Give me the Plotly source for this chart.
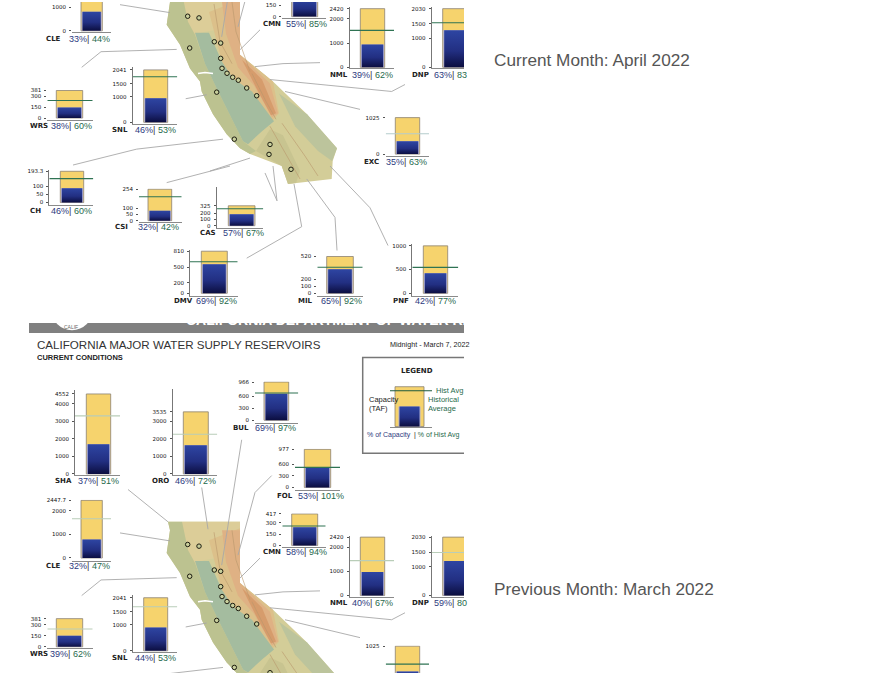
import plotly.graph_objects as go

W, H = 876, 675
CLIP_X = 464
PANEL_SHIFT = 531.4

# reservoir capacity (TAF) and axis ticks
CAPACITY = {"SHA": 4552, "ORO": 3535, "BUL": 966, "FOL": 977, "CLE": 2447.7, "CMN": 417,
            "NML": 2420, "DNP": 2030, "EXC": 1025, "WRS": 381, "SNL": 2041, "CCH": 193.3,
            "CSI": 254, "CAS": 325, "DMV": 810, "MIL": 520, "PNF": 1000}
TICKS = {"SHA": [0, 1000, 2000, 3000, 4000, 4552], "ORO": [0, 1000, 2000, 3000, 3535],
         "BUL": [0, 300, 600, 966], "FOL": [0, 300, 600, 977], "CLE": [0, 1000, 2000, 2447.7],
         "CMN": [0, 150, 300, 417], "NML": [0, 1000, 2000, 2420], "DNP": [0, 1000, 1500, 2030],
         "EXC": [0, 1025], "WRS": [0, 150, 300, 381], "SNL": [0, 1000, 1500, 2041],
         "CCH": [0, 50, 100, 193.3], "CSI": [0, 50, 100, 254], "CAS": [0, 100, 200, 325],
         "DMV": [0, 200, 500, 810], "MIL": [0, 100, 200, 520], "PNF": [0, 500, 1000]}

# April 2022 readings
APRIL_CODES = ["CLE", "CMN", "NML", "DNP", "EXC", "WRS", "SNL", "CCH", "CSI", "CAS", "DMV", "MIL", "PNF"]
APRIL_STORAGE = [808, 229, 944, 1279, 359, 145, 939, 89, 81, 185, 559, 338, 420]
APRIL_AVERAGE = [1836, 270, 1522, 1541, 570, 242, 1772, 148, 193, 276, 608, 367, 545]
APRIL_PCT_CAP = [33, 55, 39, 63, 35, 38, 46, 46, 32, 57, 69, 65, 42]
APRIL_PCT_AVG = [44, 85, 62, 83, 63, 60, 53, 60, 42, 67, 92, 92, 77]

# March 2022 readings
MARCH_CODES = ["SHA", "ORO", "BUL", "FOL", "CLE", "CMN", "NML", "DNP", "WRS", "SNL", "EXC"]
MARCH_STORAGE = [1684, 1626, 667, 518, 783, 242, 968, 1198, 149, 898, 310]
MARCH_AVERAGE = [3302, 2258, 687, 513, 1667, 257, 1445, 1497, 240, 1694, 520]
MARCH_PCT_CAP = [37, 46, 69, 53, 32, 58, 40, 59, 39, 44, None]
MARCH_PCT_AVG = [51, 72, 97, 101, 47, 94, 67, 80, 62, 53, None]

DARK = "#2f7353"
PALE = "#b9cdb8"
PALE_BLUE = "#b4cccc"

# geometry in page pixels: axis left/right, bar left/right, bar top, zero, baseline,
# axis top (None = just over the bar), y axis line, label x, percent x, text y, avg line colour
GEOM_APRIL = {
    "CLE": (72, 111, 81, 102.3, -29, 29, 30.5, None, False, 45, 67.7, 37, DARK),
    "CMN": (282.3, 325.7, 291.7, 317.7, -17, 14.7, 16.3, None, False, 261.7, 285, 22.3, DARK),
    "NML": (349.5, 394, 360.3, 384.7, 6.7, 65.7, 66.5, 5, True, 329, 351, 73.3, DARK),
    "DNP": (431.7, 476, 442.7, 467, 6.7, 65.7, 66.5, 5, True, 411, 432.7, 73.3, DARK),
    "EXC": (385.7, 429, 395.3, 419.7, 116.3, 153, 155, None, False, 362.7, 385, 160.7, PALE_BLUE),
    "WRS": (47.3, 92.7, 56.3, 82.7, 89, 116.7, 119, None, False, 29.3, 50, 124.3, DARK),
    "SNL": (132.7, 177.3, 143.7, 167.7, 68.3, 121, 122.7, 65, True, 111, 134, 128.3, DARK),
    "CCH": (49.3, 93.3, 60.3, 83.7, 170.3, 201.7, 204.3, 169, True, 29, 50, 210, DARK),
    "CSI": (139, 181.7, 148, 171.7, 188.3, 220, 221, None, False, 114, 137.3, 226.7, DARK),
    "CAS": (216.7, 263.3, 228.3, 255, 205, 225, 227, 185.7, True, 199, 221.7, 232.7, DARK),
    "DMV": (190, 237.7, 201.3, 227.3, 250.7, 293, 295.3, 249.3, True, 172.7, 195, 300.7, DARK),
    "MIL": (317.3, 362.7, 326.7, 353.3, 256, 293, 295.3, None, False, 297, 320, 300.7, DARK),
    "PNF": (412.3, 458.3, 423.3, 447.7, 245.3, 293, 295.3, 243.3, True, 392.3, 414, 300.7, DARK),
}
GEOM_MARCH = {
    "SHA": (75, 120, 86.3, 110.7, 394.3, 474.7, 476, 390, True, 54.3, 77, 481.7, PALE),
    "ORO": (172.7, 217.3, 183.3, 208.3, 412.3, 474.7, 476, 389.3, True, 151, 174.3, 481.7, PALE),
    "BUL": (255, 298.3, 264, 288.7, 382.3, 420.7, 423.3, None, False, 231.7, 254.3, 429, DARK),
    "FOL": (295, 340, 304.3, 330.7, 450, 488.3, 491, None, False, 276, 297.3, 496.7, DARK),
    "CLE": (72, 111, 81, 102.3, 501.3, 559.3, 562, None, False, 45, 67.7, 567.7, PALE),
    "CMN": (282.3, 325.7, 291.7, 317.7, 515, 546.7, 548.3, None, False, 261.7, 285, 553.3, DARK),
    "NML": (349.5, 394, 360.3, 384.7, 538.3, 597, 599, 536.7, True, 329, 351, 604.3, PALE),
    "DNP": (431.7, 476, 442.7, 467, 538.3, 597, 599, 536.7, True, 411, 432.7, 604.3, PALE),
    "WRS": (47.3, 92.7, 56.3, 82.7, 620.3, 648.7, 649.5, None, False, 29.3, 49.3, 655.7, PALE),
    "SNL": (132.7, 177.3, 143.7, 167.7, 599.3, 652.7, 654, 596.7, True, 111, 134, 660, PALE),
    "EXC": (385.7, 429, 395.3, 419.7, 648, 684.7, 686, None, False, 362.7, 385, 692, DARK),
}

# map drawing, page pixels of the upper panel
STATE = [(168, -8.5), (240, -8.5), (240, 53), (273, 80), (307, 113), (337, 147), (332.7, 160),
         (331.7, 178), (288, 183), (281.7, 165), (250, 153), (240, 147), (226.7, 133), (213, 113),
         (201.7, 90), (200, 80), (190, 67), (180, 43), (166.7, 23), (170, 0)]
COAST = [(168, -8.5), (182, -8.5), (188, 20), (195, 33), (205, 62), (216.7, 87), (243, 140), (256, 150),
         (250, 153), (240, 147), (226.7, 133), (213, 113), (201.7, 90), (200, 80), (190, 67), (180, 43),
         (166.7, 23), (170, 0)]
NORTH = [(182, -8.5), (240, -8.5), (240, 20), (218, 28), (205, 30), (195, 33), (188, 20)]
FOOTHILL = [(209, 10), (240, -2), (240, 53), (273, 80), (279, 112), (272, 120), (252, 90), (233, 77), (222, 60)]
SIERRA = [(222, 0), (240, 0), (240, 53), (270, 82), (278, 112), (272, 116), (254, 84), (238, 66), (226, 32)]
SIERRA_CORE = [(242, 58), (262, 78), (276, 112), (271, 114), (256, 86)]
VALLEY = [(195, 31), (209, 31), (222, 60), (233, 77), (252, 90), (274, 120), (262, 130), (248, 143),
          (243, 140), (216.7, 87), (205, 62)]
SOUTH = [(256, 150), (270, 128), (283, 134), (300, 170), (296, 182), (288, 183), (281.7, 165)]
DESERT = [(279, 92), (307, 113), (337, 147), (332, 160), (318, 150), (295, 125)]
BAY = [(198, 72), (205, 71), (213, 72)]
FAULTS = [[(214, 2), (220, 40), (232, 62)], [(232, 0), (236, 30), (250, 70)], [(252, 72), (266, 100), (276, 118)],
          [(270, 125), (290, 160), (300, 178)], [(282, 122), (305, 155), (318, 175)]]
DAMS = [(187.7, 14.3), (199, 16), (189.7, 46.3), (214.3, 40), (220.7, 41.3), (220.7, 56.7), (222, 66.7),
        (227, 71.7), (232.7, 75.7), (238.3, 78.7), (246.7, 86.5), (216.7, 90.7), (234.3, 138),
        (256.7, 94.3), (270, 143.3), (269, 153.3), (291, 168.3)]
LEADERS = [[(120, 2.7), (170, 10.7)], [(81.7, 65.7), (101, 50), (176.7, 47.7)], [(185.7, 97.3), (206.7, 93.3)],
           [(73, 164), (136.7, 148), (223, 138)], [(210, 170), (250, 157)], [(240, 48), (260, 28)],
           [(255, 65), (283, 62), (320, 61)], [(270, 78), (391.7, 90), (405, 83)],
           [(285, 90), (333, 102), (360, 108)], [(330, 165), (370, 207), (388, 245)],
           [(306.7, 178), (335, 216.7), (337, 250)], [(294, 183), (301.7, 226), (246.7, 257.7)],
           [(273, 165), (277, 200), (265, 172)], [(166.7, 181.7), (230, 165)],
           [(128, -41), (168, -8.5)], [(201.7, -43), (208, -1)], [(241.7, -91), (221.7, 35)],
           [(271.7, -55), (255, -38), (238, 25)]]

LABEL_FONT = "DejaVu Sans"
TEXT_FONT = "Liberation Sans"
NAVY = "#2d3a7e"
GREEN = "#1f6a4c"

fig = go.Figure()
annotations = []
layout_axes = {}


def add_text(text, x, y, size=7, color="#222", family=TEXT_FONT, anchor="left", bold=False):
    if bold:
        text = f"<b>{text}</b>"
    annotations.append(dict(text=text, x=x / W, y=1 - y / H, xref="paper", yref="paper", showarrow=False,
                            xanchor=anchor, yanchor="middle", align="left", borderpad=0,
                            font=dict(size=size, color=color, family=family)))


def poly(points, color, shift=0.0):
    fig.add_trace(go.Scatter(x=[p[0] for p in points], y=[p[1] + shift for p in points], fill="toself",
                             fillcolor=color, mode="none", xaxis="x", yaxis="y", hoverinfo="skip"))


def path(points, color, width, shift=0.0):
    fig.add_trace(go.Scatter(x=[p[0] for p in points], y=[p[1] + shift for p in points], mode="lines",
                             line=dict(color=color, width=width), xaxis="x", yaxis="y", hoverinfo="skip"))


def draw_map(shift):
    poly(STATE, "#d3cd98", shift)
    poly(NORTH, "#dccd98", shift)
    poly(COAST, "#bcc290", shift)
    poly(FOOTHILL, "#dcc08a", shift)
    poly(SIERRA, "#dfb184", shift)
    poly(SIERRA_CORE, "#d69c6c", shift)
    poly(DESERT, "#bcc49c", shift)
    poly(SOUTH, "#c8c490", shift)
    poly(VALLEY, "#a4bc9f", shift)
    path(BAY, "#ffffff", 1.5, shift)
    for line in FAULTS:
        path(line, "#b9976c", 0.6, shift)
    for line in LEADERS:
        path(line, "#a8a8a8", 0.9, shift)
    fig.add_trace(go.Scatter(x=[p[0] for p in DAMS], y=[p[1] + shift for p in DAMS], mode="markers",
                             marker=dict(size=4.5, color="#c9cf9c", line=dict(color="#1c1c10", width=1)),
                             xaxis="x", yaxis="y", hoverinfo="skip"))


def mini_chart(n, capacity, storage, average, geom, ticks=None, inset=1.5):
    ax_l, ax_r, bar_l, bar_r, top, zero, base, axis_top, yline = geom[:9]
    avg_color = geom[12]
    if axis_top is None:
        axis_top = top - 0.6
    dom_top = max(axis_top, 0)
    dom_bot = min(base, H)
    dom_r = min(ax_r, CLIP_X)
    to_value = lambda p: (zero - p) / (zero - top) * capacity
    xa, ya = f"x{n}", f"y{n}"
    center = (bar_l + bar_r) / 2
    width = bar_r - bar_l
    inner = width / 2 - inset
    fig.add_trace(go.Bar(x=[center], y=[capacity], width=[width], xaxis=xa, yaxis=ya, hoverinfo="skip",
                         marker=dict(color="#f6d36d", line=dict(color="#8c8272", width=0.8))))
    fig.add_trace(go.Bar(x=[center], y=[storage], width=[2 * inner + 2], xaxis=xa, yaxis=ya, hoverinfo="skip",
                         marker=dict(color="#aeaed2", line=dict(width=0))))
    fig.add_trace(go.Scatter(x=[center - inner, center - inner, center + inner, center + inner],
                             y=[0, storage, storage, 0], mode="none", fill="toself",
                             fillgradient=dict(type="vertical", start=storage, stop=0,
                                               colorscale=[[0, "#2e45a2"], [0.55, "#222f82"], [1, "#0b0d3e"]]),
                             xaxis=xa, yaxis=ya, hoverinfo="skip"))
    fig.add_trace(go.Scatter(x=[ax_l, ax_r], y=[average, average], mode="lines",
                             line=dict(color=avg_color, width=1.1), xaxis=xa, yaxis=ya, hoverinfo="skip"))
    layout_axes[f"xaxis{n}"] = dict(domain=[ax_l / W, dom_r / W], range=[ax_l, dom_r], anchor=ya,
                                    showgrid=False, zeroline=False, showticklabels=False, ticks="",
                                    showline=base <= H, linecolor="#8a8a8a", linewidth=1, fixedrange=True)
    y_opts = dict(domain=[1 - dom_bot / H, 1 - dom_top / H], range=[to_value(dom_bot), to_value(dom_top)],
                  anchor=xa, showgrid=False, zeroline=False, showline=yline, linecolor="#777", linewidth=1,
                  fixedrange=True, showticklabels=False, ticks="")
    if ticks:
        y_opts.update(tickmode="array", tickvals=ticks, ticktext=[f"{t:g}" for t in ticks], showticklabels=True,
                      ticks="outside", ticklen=2, tickcolor="#555", ticklabelstandoff=2,
                      tickfont=dict(size=5.5, color="#111", family=LABEL_FONT))
    layout_axes[f"yaxis{n}"] = y_opts


# page furniture on the full-page axis
draw_map(0.0)
draw_map(PANEL_SHIFT)
poly([(29, 323), (CLIP_X, 323), (CLIP_X, 333), (29, 333)], "#808080")
fig.add_trace(go.Scatter(x=[72], y=[309], mode="markers", marker=dict(size=42, color="#ffffff"),
                         xaxis="x", yaxis="y", hoverinfo="skip"))
path([(CLIP_X, 357.7), (362.7, 357.7), (362.7, 454), (CLIP_X, 454)], "#777777", 1.5)

n = 2
for i, code in enumerate(APRIL_CODES):
    geom = GEOM_APRIL[code]
    mini_chart(n, CAPACITY[code], APRIL_STORAGE[i], APRIL_AVERAGE[i], geom, TICKS[code])
    n += 1
    label = "CH" if code == "CCH" else code
    add_text(label, geom[9], geom[11], size=7, family=LABEL_FONT, bold=True)
    tail = f"{APRIL_PCT_AVG[i]}%" if code != "DNP" else f"{APRIL_PCT_AVG[i]}"
    add_text(f'<span style="color:{NAVY}">{APRIL_PCT_CAP[i]}%</span><span style="color:#333">|</span> '
             f'<span style="color:{GREEN}">{tail}</span>', geom[10], geom[11], size=9)

for i, code in enumerate(MARCH_CODES):
    geom = GEOM_MARCH[code]
    mini_chart(n, CAPACITY[code], MARCH_STORAGE[i], MARCH_AVERAGE[i], geom, TICKS[code])
    n += 1
    if MARCH_PCT_CAP[i] is None:
        continue
    add_text(code, geom[9], geom[11], size=7, family=LABEL_FONT, bold=True)
    tail = f"{MARCH_PCT_AVG[i]}%" if code != "DNP" else f"{MARCH_PCT_AVG[i]}"
    add_text(f'<span style="color:{NAVY}">{MARCH_PCT_CAP[i]}%</span><span style="color:#333">|</span> '
             f'<span style="color:{GREEN}">{tail}</span>', geom[10], geom[11], size=9)

# legend sample bar
LEGEND_VALUES = [100, 50, 90]
mini_chart(n, LEGEND_VALUES[0], LEGEND_VALUES[1], LEGEND_VALUES[2],
           (390, 432, 395, 424, 387, 427, 428, None, False, 0, 0, 0, "#1d5a3c"), inset=4.5)
n += 1

add_text("LEGEND", 400, 371, size=7, family=LABEL_FONT, bold=True)
add_text("Hist Avg", 435, 391, size=7.5, color=GREEN)
add_text("Historical", 427, 399.5, size=7.5, color=GREEN)
add_text("Average", 427, 409, size=7.5, color=GREEN)
add_text("Capacity", 368, 399.5, size=7.5)
add_text("(TAF)", 368, 408.5, size=7.5)
add_text(f'<span style="color:{NAVY}">% of Capacity</span>  | <span style="color:{GREEN}">% of Hist Avg</span>',
         366, 435.7, size=7)

add_text("CALIFORNIA MAJOR WATER SUPPLY RESERVOIRS", 36, 345, size=11.6, color="#333")
add_text("CURRENT CONDITIONS", 36, 358, size=7.5, bold=True)
add_text("Midnight - March 7, 2022", 389, 345, size=7.2)
add_text("CALIFORNIA DEPARTMENT OF WATER RESOURCES", 185, 320, size=14, color="#ffffff", bold=True)
add_text("CALIF", 63, 327, size=5, color="#666666")
add_text("Current Month: April 2022", 493, 58, size=17.2, color="#555")
add_text("Previous Month: March 2022", 493, 590, size=17.2, color="#555")

fig.update_layout(
    width=W, height=H, margin=dict(l=0, r=0, t=0, b=0), showlegend=False, barmode="overlay",
    paper_bgcolor="#ffffff", plot_bgcolor="rgba(0,0,0,0)", annotations=annotations,
    xaxis=dict(domain=[0, 1], range=[0, W], visible=False, fixedrange=True),
    yaxis=dict(domain=[0, 1], range=[H, 0], visible=False, fixedrange=True),
    **layout_axes,
)
fig.write_html("out.html", config={"displayModeBar": False}, post_script="document.body.style.margin='0';")
